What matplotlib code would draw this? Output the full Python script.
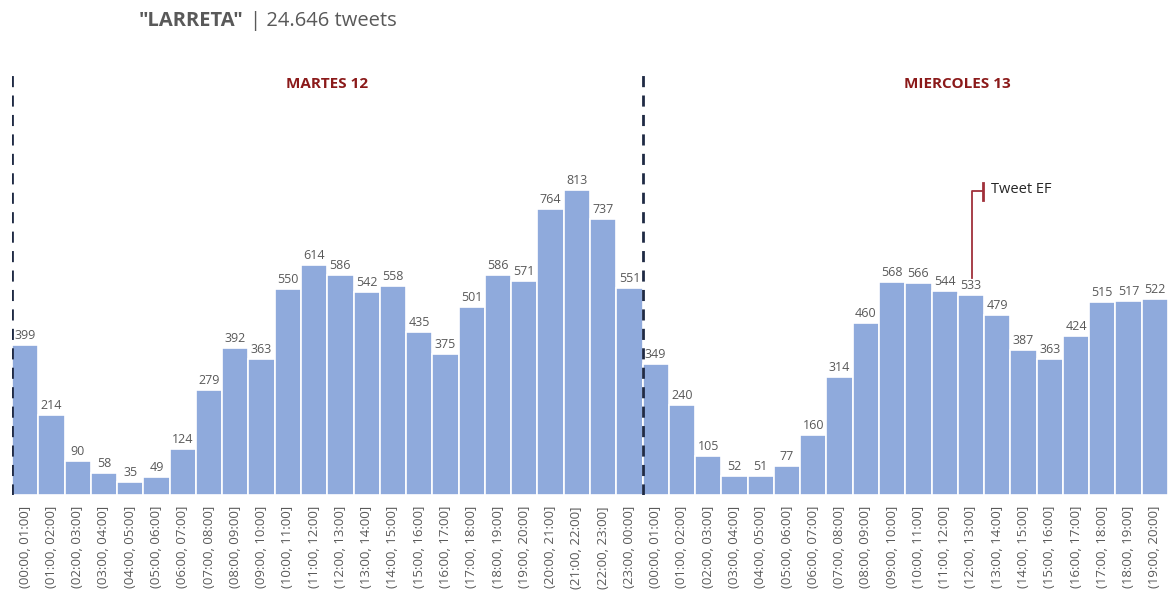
import matplotlib.pyplot as plt
import numpy as np

# tweets per hour, Tuesday 12 (24 h) and Wednesday 13 (until 20:00)
martes = [399, 214, 90, 58, 35, 49, 124, 279, 392, 363, 550, 614,
          586, 542, 558, 435, 375, 501, 586, 571, 764, 813, 737, 551]
miercoles = [349, 240, 105, 52, 51, 77, 160, 314, 460, 568, 566, 544,
             533, 479, 387, 363, 424, 515, 517, 522]

labels = ['({:02d}:00, {:02d}:00]'.format(h, (h + 1) % 24) for h in range(24)]
labels += ['({:02d}:00, {:02d}:00]'.format(h, h + 1) for h in range(20)]
values = martes + miercoles

plt.rcParams['font.family'] = ['Open Sans', 'DejaVu Sans']

fig = plt.figure(figsize=(11.72, 5.99), dpi=100)
ax = fig.add_axes([0.0102, 0.1736, 0.9864, 0.7012])

x = np.arange(len(values))
ax.bar(x, values, width=1.0, color='#8FAADC', edgecolor='white', linewidth=1.2)
for xi, v in zip(x, values):
    ax.text(xi, v + 8, str(v), ha='center', va='bottom', fontsize=9, color='#595959')

ax.set_xlim(-0.5, len(values) - 0.5)
ax.set_ylim(0, 1120)
ax.set_xticks(x)
ax.set_xticklabels(labels, rotation=90, fontsize=9.5, color='#595959')
ax.tick_params(length=0, pad=8)
ax.set_yticks([])
for s in ax.spines.values():
    s.set_visible(False)

# day separators
for xd in [-0.5, len(martes) - 0.5]:
    ax.axvline(xd, color='#1F2A44', linestyle=(0, (4, 3)), linewidth=2)

ax.text(11.5, 1095, 'MARTES 12', ha='center', va='center', fontsize=11,
        fontweight='bold', color='#8B1A1A')
ax.text(24 + 11.5, 1095, 'MIERCOLES 13', ha='center', va='center', fontsize=11,
        fontweight='bold', color='#8B1A1A')

# Tweet EF marker
i_ef = len(martes) + 12
ax.plot([i_ef + 0.05, i_ef + 0.05, i_ef + 0.45], [miercoles[12] + 45, 810, 810],
        color='#A0303A', linewidth=1.3)
ax.plot([i_ef + 0.47, i_ef + 0.47], [788, 832], color='#A0303A', linewidth=2)
ax.text(i_ef + 0.75, 815, 'Tweet EF', ha='left', va='center', fontsize=10.5, color='#262626')

# title: bold keyword followed by the total
t1 = fig.text(0.118, 0.965, '"LARRETA"', ha='left', va='center', fontsize=14.5,
              fontweight='bold', color='#595959')
fig.canvas.draw()
bb = t1.get_window_extent()
fig.text((bb.x1 + 7) / fig.bbox.width, 0.965, '| 24.646 tweets', ha='left', va='center',
         fontsize=14.5, color='#595959')

fig.savefig('out.png', dpi=100)
